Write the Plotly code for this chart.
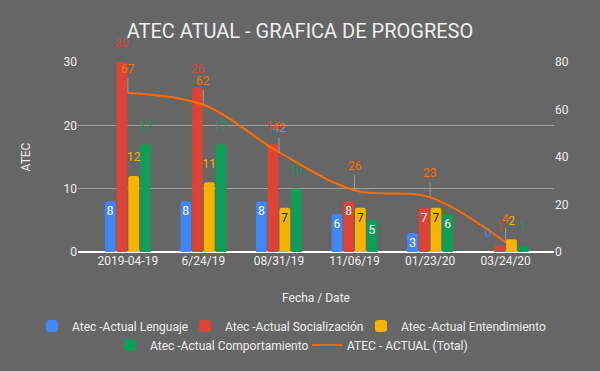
import plotly.graph_objects as go

dates = ["2019-04-19", "6/24/19", "08/31/19", "11/06/19", "01/23/20", "03/24/20"]
lenguaje = [8, 8, 8, 6, 3, 0]
socializacion = [30, 26, 17, 8, 7, 1]
entendimiento = [12, 11, 7, 7, 7, 2]
comportamiento = [17, 17, 10, 5, 6, 1]
total = [67, 62, 42, 26, 23, 4]

names = ["Atec -Actual Lenguaje", "Atec -Actual Socialización",
         "Atec -Actual Entendimiento", "Atec -Actual Comportamiento"]
total_name = "ATEC - ACTUAL (Total)"
series = [lenguaje, socializacion, entendimiento, comportamiento]
colors = ["#4285f4", "#db4437", "#f4b400", "#0f9d58"]
inside_colors = ["#ffffff", "#ffffff", "#222222", "#ffffff"]
# which labels sit inside the bar (as in the reference)
inside_flags = [
    [True, True, True, True, True, False],
    [False, False, False, True, True, False],
    [False, False, True, True, True, False],
    [False, False, False, True, True, False],
]
line_color = "#ff6d01"
bg = "#666666"
font_fam = "Roboto"
txt = "#eeeeee"

# legend entry placement (left edge of entry, row centre) in pixels
legend_pos = [(47, 326), (200, 326), (376, 326), (125, 345), (322, 345)]
legend_ids = ["legend", "legend2", "legend3", "legend4", "legend5"]

fig = go.Figure()
for i, (name, vals, col, icol, flags) in enumerate(
        zip(names, series, colors, inside_colors, inside_flags)):
    grp = f"g{i}"
    fig.add_trace(go.Bar(
        x=dates, y=vals, name=name, legend=legend_ids[i],
        offsetgroup=grp, alignmentgroup="bars",
        marker=dict(color=col, line=dict(width=0)),
        text=[str(v) if f else "" for v, f in zip(vals, flags)],
        textposition="inside",
        insidetextanchor="end",
        constraintext="none",
        insidetextfont=dict(color=icol, size=12, family=font_fam),
        textangle=0,
        cliponaxis=False,
        hoverinfo="skip",
    ))
    # labels that sit above the bar
    fig.add_trace(go.Scatter(
        x=dates, y=vals, offsetgroup=grp, alignmentgroup="bars", showlegend=False,
        mode="markers+text",
        marker=dict(size=17, color="rgba(0,0,0,0)"),
        text=["" if f else str(v) for v, f in zip(vals, flags)],
        textposition="top center",
        textfont=dict(color=col, size=12, family=font_fam),
        cliponaxis=False,
        hoverinfo="skip",
    ))

fig.add_trace(go.Scatter(
    x=dates, y=total, name=total_name, xaxis="x2", yaxis="y2", legend=legend_ids[4],
    offsetgroup="line", alignmentgroup="line",
    mode="lines", line=dict(color=line_color, width=2, shape="spline", smoothing=1.0),
    hoverinfo="skip",
))

for d, t in zip(dates, total):
    fig.add_annotation(
        x=d, y=t, xref="x", yref="y2", text=str(t),
        showarrow=True, arrowhead=0, arrowwidth=1, arrowcolor="#9a9a9a",
        ax=0, ay=-15, font=dict(color=line_color, size=12, family=font_fam),
        yanchor="bottom",
    )

legends = {}
for lid, (px, py) in zip(legend_ids, legend_pos):
    legends[lid] = dict(orientation="h", xref="container", yref="container",
                        xanchor="left", yanchor="middle",
                        x=(px - 15) / 600, y=1 - py / 371,
                        font=dict(size=12, color=txt, family=font_fam),
                        bgcolor="rgba(0,0,0,0)", itemwidth=30)

xrange = [-0.66, 5.64]
fig.update_layout(
    width=600, height=371,
    paper_bgcolor=bg, plot_bgcolor=bg,
    font=dict(family=font_fam, color=txt, size=12),
    margin=dict(l=78, r=46, t=62, b=119, autoexpand=False),
    barmode="group", bargap=0.38, bargroupgap=0.08,
    scattermode="group", scattergap=0.38,
    barcornerradius=2,
    title=dict(text="ATEC ATUAL - GRAFICA DE PROGRESO", x=0.5, xref="container",
               y=1 - 31 / 371, yref="container", yanchor="middle", xanchor="center",
               font=dict(size=20, color=txt, family=font_fam)),
    xaxis=dict(type="category", range=xrange, showgrid=False,
               ticks="", tickfont=dict(size=12, color=txt),
               title=dict(text="Fecha / Date", standoff=26, font=dict(size=12, color=txt))),
    xaxis2=dict(type="category", range=xrange, overlaying="x", visible=False),
    yaxis=dict(range=[0, 30], dtick=10, showgrid=True, gridcolor="#9e9e9e", gridwidth=1,
               zeroline=True, zerolinecolor="#ffffff", zerolinewidth=1.5,
               tickfont=dict(size=12, color=txt), ticks="",
               title=dict(text="ATEC", standoff=30, font=dict(size=12, color=txt))),
    yaxis2=dict(range=[0, 80], dtick=20, overlaying="y", side="right", showgrid=False,
                zeroline=False, tickfont=dict(size=12, color=txt), ticks=""),
    showlegend=True,
    **legends,
)

fig.write_html("out.html", post_script="document.body.style.margin='0';",
               config={"displayModeBar": False})
